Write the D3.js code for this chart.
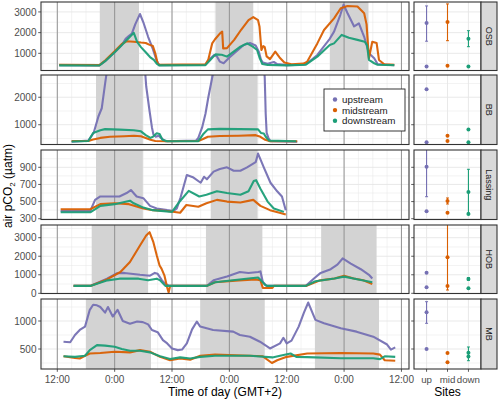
<!DOCTYPE html>
<html><head><meta charset="utf-8">
<script src="https://cdn.jsdelivr.net/npm/d3@7"></script>
<style>body{margin:0;background:#fff;} text{font-family:"Liberation Sans",Arial,sans-serif;}</style>
</head><body><svg id="c" width="500" height="400"></svg>
<script>
const sites = ["OSB","BB","Lassing","HOB","MB"];
const streams = ["upstream","midstream","downstream"];
const streamShort = ["up","mid","down"];
const colors = ["#7570B3","#D95F02","#1B9E77"];
const xTicks = [12,24,36,48,60,72,84];
const xTickLabels = ["12:00","0:00","12:00","0:00","12:00","0:00","12:00"];
const xDomain = [8.59,85.58];

const yTicksOSB = [1000,2000,3000];
const yTicksBB = [1000,2000];
const yTicksLassing = [300,500,700,900];
const yTicksHOB = [0,1000,2000,3000];
const yTicksMB = [500,1000];
const yDomOSB = [170,3480];
const yDomBB = [280,2810];
const yDomLassing = [291,1102];
const yDomHOB = [-10,3685];
const yDomMB = [143,1393];

const nightsOSB = [[20.9,29.1],[45.1,53.0],[69.05,77.1]];
const nightsBB = [[20.1,29.9],[44.1,53.9]];
const nightsLassing = [[20.1,29.9],[44.1,53.9]];
const nightsHOB = [[19.2,31.0],[43.1,54.9],[67.2,78.8]];
const nightsMB = [[18.0,31.6],[41.9,55.4],[65.9,79.3]];

// time (h since day-1 0:00), air pCO2 (µatm)
const osbUp = [[12.4,430],[20.8,420],[22,620],[24,1050],[25.5,1400],[26.3,1700],[27,1850],[27.6,1950],[28.3,2400],[29.3,2900],[30,2500],[31,1800],[32,1200],[32.7,700],[33.3,430],[43,450],[43.8,700],[44.8,920],[45.4,850],[46,600],[46.8,520],[48,800],[49.5,1100],[51,1400],[52.3,1500],[53.5,1380],[54.2,1050],[54.6,700],[55,550],[56,500],[57.3,580],[58,480],[60,430],[63.5,450],[64.3,520],[66.4,920],[69,1700],[69.9,2050],[71.2,2850],[71.9,3350],[72.7,2950],[74.1,2300],[75.1,2450],[76.2,1800],[77.2,1000],[78.3,760],[79,480],[82.5,420]];
const osbMid = [[12.4,450],[20.8,430],[22,650],[24,1100],[25.5,1450],[26.5,1580],[28,1560],[29.5,1520],[30.5,1500],[31.2,1420],[32,1350],[32.5,1000],[33,500],[33.5,440],[43,470],[43.6,700],[44.4,1480],[45,1680],[46,1950],[46.5,2050],[46.7,1240],[47.5,1250],[49,1650],[50.5,2150],[52,2600],[53,2750],[54,2600],[54.3,2300],[54.7,1160],[55.1,1350],[55.4,1300],[55.8,850],[56.5,720],[57.6,1080],[58.5,800],[59.5,560],[61,470],[63.5,500],[64.3,600],[66.4,1480],[67.8,2130],[69.9,2690],[71.3,3180],[72.7,3290],[74.8,3260],[76.2,2940],[76.7,2400],[77.2,760],[77.9,1560],[78.8,1500],[79.3,680],[80.4,470],[82.5,440]];
const osbDown = [[12.4,420],[20.8,410],[22,620],[24,1050],[25.5,1400],[27,1750],[28,1990],[28.7,1550],[29.5,1300],[30.5,1050],[31.4,820],[32.2,680],[32.8,500],[33.3,420],[43,430],[44,680],[45.1,950],[46.4,930],[47.5,840],[50.3,1320],[51.7,1480],[52.9,1320],[53.8,1160],[54.3,800],[54.9,480],[56,440],[60,420],[64,450],[66.4,840],[69,1400],[69.9,1480],[71.5,1890],[73,1750],[74.8,1650],[76.3,1560],[76.8,1400],[77.2,680],[78.3,520],[79,450],[82.5,430]];

const bbUp = [[15,380],[18.5,420],[19.6,700],[20.6,1300],[21.3,1600],[22,2500],[22.5,3100],[30.3,3100],[30.6,2400],[31.3,1500],[31.8,900],[32.1,650],[32.6,560],[33.2,600],[33.8,500],[34.6,400],[41,420],[41.5,520],[42.3,900],[43,1400],[43.6,2000],[44.5,2800],[45,3300],[55.2,3300],[55.4,2700],[55.6,1400],[55.8,700],[56.2,500],[56.6,400],[62.2,380]];
const bbMid = [[15,410],[18.5,410],[19.5,460],[21,520],[23,560],[26,580],[28,600],[29.5,580],[30.5,520],[31.5,450],[32.5,410],[35,400],[41.5,410],[42.5,480],[43.5,560],[46,590],[50,600],[53.5,620],[54.5,560],[55.5,450],[56.5,400],[62.2,400]];
const bbDown = [[15,390],[18.5,410],[19.5,700],[21,800],[22,840],[25,820],[28,800],[29.5,760],[30.5,620],[31.5,520],[32,560],[32.8,690],[33.4,660],[34,450],[35,400],[41.5,400],[42.5,650],[43.5,830],[46,850],[50,840],[54,830],[54.6,700],[55.2,680],[55.6,560],[56.3,420],[62,400]];

const lasUp = [[12.7,390],[18.9,390],[19.9,520],[21,560],[25,560],[26.5,600],[27.4,635],[28.6,560],[30,540],[31.4,450],[32.8,420],[35,400],[36.3,390],[37,420],[37.8,550],[39.1,810],[40.5,780],[42,720],[42.7,790],[43.3,760],[44.7,850],[46,880],[47.5,900],[48.9,860],[50.3,860],[51.7,900],[53.5,960],[54,1060],[55.2,900],[56.6,720],[58,620],[59,560],[59.8,400]];
const lasMid = [[12.7,410],[18.9,410],[21,470],[24,480],[27,470],[30,420],[32,400],[35,390],[37.7,370],[39,460],[41.5,440],[43.2,480],[45.4,520],[47.5,500],[50.3,490],[53,520],[54.5,450],[56.5,400],[58.5,370],[59.8,350]];
const lasDown = [[12.7,375],[18.9,375],[21,450],[24,470],[27.2,510],[28,480],[30,430],[32,400],[36,380],[37.3,480],[39.5,625],[41.7,560],[43.2,580],[45.4,620],[47.5,600],[50.3,580],[52,620],[53.1,740],[53.6,750],[54.5,650],[56,500],[57.3,420],[59.4,380]];

const hobUp = [[15.4,400],[18.9,400],[22.4,790],[24.5,1080],[26,1100],[29.3,1000],[31.4,950],[32.4,1100],[33,1050],[33.9,700],[34.6,500],[35.5,400],[43.3,400],[44.7,700],[47.5,910],[50.2,1150],[52,1100],[54,1150],[54.5,1180],[55,610],[55.8,400],[64,400],[65.7,800],[67.1,1100],[69.2,1300],[70.6,1550],[71.7,1880],[73.4,1600],[75.5,1300],[77.2,1000],[77.9,800]];
const hobMid = [[15.4,400],[18.9,400],[22.4,750],[25.2,1150],[27.2,1690],[29.3,2580],[30.6,3120],[31.3,3300],[32.1,2760],[32.8,2050],[33.4,1500],[33.8,1330],[34.4,970],[35,300],[35.3,50],[35.6,400],[43.3,400],[45,600],[50,700],[53.5,750],[54.5,700],[55,290],[57,290],[57.3,400],[64,400],[67,700],[70,800],[72,950],[74,800],[76,700],[77.9,500]];
const hobDown = [[15.4,400],[18.9,400],[22.5,700],[25,790],[29,790],[31,700],[32.8,790],[33.5,700],[34.6,400],[43.3,400],[45,600],[52,800],[54,850],[54.6,700],[55.5,450],[56,400],[64,400],[66,650],[70,800],[72,900],[75,750],[77.9,600]];

const mbUp = [[13.3,630],[14.7,620],[15.7,750],[16.7,840],[17.8,900],[18.8,1200],[19.5,1290],[20.3,1280],[21,1250],[22,1150],[22.6,1250],[23.6,1080],[24.6,1200],[25.7,1000],[27.2,950],[28.7,990],[29.9,980],[31,940],[31.8,840],[33,800],[34.1,660],[35,600],[36,510],[37.2,480],[38.1,490],[39.1,600],[40.2,850],[41.2,990],[41.9,900],[44.6,840],[48.8,810],[50.2,750],[52.3,720],[54.4,630],[56.5,510],[58.6,600],[59.3,700],[60,600],[61,650],[62.5,900],[63.6,1150],[64.5,1330],[66,1020],[67.8,960],[71.3,870],[74.6,810],[78.1,720],[81,580],[81.8,490],[82.7,530]];
const mbMid = [[13.3,370],[15.7,340],[16.7,330],[17.8,380],[18.8,420],[21,430],[24,450],[27.2,440],[29.3,480],[31.4,450],[33.5,360],[35.6,300],[37.7,330],[39.8,310],[41.9,380],[45,400],[52.3,380],[55,370],[56.9,250],[58,300],[60,360],[64.3,420],[71.3,430],[78.1,420],[79.5,400],[80.5,300],[82.7,290]];
const mbDown = [[13.3,370],[15.7,360],[17.8,380],[18.8,480],[20.3,570],[22,560],[24,540],[25.5,500],[27.2,470],[29.3,470],[31.4,440],[33.5,370],[35.6,320],[37.7,350],[39.8,330],[41.9,360],[45,380],[52.3,380],[57,350],[58.6,380],[60.8,420],[62,360],[64.3,355],[71.3,335],[78.1,335],[79.5,320],[80.5,370],[82.7,360]];

// summary per stream: [mean, errLow, errHigh, baseline]
const sumOSB = [[2463,1585,3290,360],[2516,1610,3387,400],[1707,1320,2094,360]];
const sumBB = [[2292,null,null,358],[599,null,null,405],[825,null,null,358]];
const sumLassing = [[907,557,1150,388],[507,472,542,370],[612,367,877,355]];
const sumHOB = [[1113,null,null,324],[1943,178,3800,400],[772,700,850,270]];
const sumMB = [[1155,959,1345,500],[429,null,null,263],[434,291,536,366]];

const yTicksAll=[yTicksOSB,yTicksBB,yTicksLassing,yTicksHOB,yTicksMB];
const yDoms=[yDomOSB,yDomBB,yDomLassing,yDomHOB,yDomMB];
const nightsAll=[nightsOSB,nightsBB,nightsLassing,nightsHOB,nightsMB];
const seriesAll=[[osbUp,osbMid,osbDown],[bbUp,bbMid,bbDown],[lasUp,lasMid,lasDown],[hobUp,hobMid,hobDown],[mbUp,mbMid,mbDown]];
const sumAll=[sumOSB,sumBB,sumLassing,sumHOB,sumMB];

const panelTop=[2,75,150,225,299], panelBot=[70.5,144.5,219.5,293.5,369];
const L0=41,L1=409,R0=414,R1=481,S1=497;
const svg=d3.select("#c");
const xT=d3.scaleLinear().domain(xDomain).range([L0,L1]);
const xS=d3.scalePoint().domain(streamShort).range([R0,R1]).padding(0.6);
const gridC="#e6e6e6", border="#333333", axisTxt="#4d4d4d";

sites.forEach((site,i)=>{
  const top=panelTop[i], bot=panelBot[i];
  const y=d3.scaleLinear().domain(yDoms[i]).range([bot,top]);
  const ticks=yTicksAll[i];
  const step=ticks[1]-ticks[0];
  const minor=[];
  for(let v=ticks[0]-step*Math.ceil((ticks[0]-yDoms[i][0])/step)-step/2; v<=yDoms[i][1]; v+=step) if(v>=yDoms[i][0]) minor.push(v);
  const g=svg.append("g");
  const defs=svg.append("defs");
  defs.append("clipPath").attr("id","cl"+i).append("rect").attr("x",L0).attr("y",top).attr("width",L1-L0).attr("height",bot-top);
  defs.append("clipPath").attr("id","cr"+i).append("rect").attr("x",R0).attr("y",top).attr("width",R1-R0).attr("height",bot-top);
  const gl=g.append("g").attr("clip-path",`url(#cl${i})`);
  gl.append("rect").attr("x",L0).attr("y",top).attr("width",L1-L0).attr("height",bot-top).attr("fill","#fff");
  minor.forEach(v=>gl.append("line").attr("x1",L0).attr("x2",L1).attr("y1",y(v)).attr("y2",y(v)).attr("stroke",gridC).attr("stroke-width",0.5));
  ticks.forEach(v=>gl.append("line").attr("x1",L0).attr("x2",L1).attr("y1",y(v)).attr("y2",y(v)).attr("stroke",gridC).attr("stroke-width",0.9));
  for(let h=9;h<=85;h+=3){ gl.append("line").attr("x1",xT(h)).attr("x2",xT(h)).attr("y1",top).attr("y2",bot).attr("stroke",gridC).attr("stroke-width",h%12===0?0.9:0.5); }
  nightsAll[i].forEach(n=>gl.append("rect").attr("x",xT(n[0])).attr("width",xT(n[1])-xT(n[0])).attr("y",top).attr("height",bot-top).attr("fill","#d3d3d3"));
  xTicks.forEach(h=>gl.append("line").attr("x1",xT(h)).attr("x2",xT(h)).attr("y1",top).attr("y2",bot).attr("stroke","#8a8a8a").attr("stroke-width",0.9));
  const line=d3.line().x(d=>xT(d[0])).y(d=>y(d[1]));
  seriesAll[i].forEach((s,k)=>gl.append("path").attr("d",line(s)).attr("fill","none").attr("stroke",colors[k]).attr("stroke-width",2.1).attr("stroke-linejoin","round").attr("opacity",0.95));
  g.append("rect").attr("x",L0).attr("y",top).attr("width",L1-L0).attr("height",bot-top).attr("fill","none").attr("stroke",border).attr("stroke-width",1.1);
  ticks.forEach(v=>{
    g.append("line").attr("x1",L0-2.8).attr("x2",L0).attr("y1",y(v)).attr("y2",y(v)).attr("stroke",border).attr("stroke-width",0.8);
    g.append("text").attr("x",L0-4.5).attr("y",y(v)+3.6).attr("text-anchor","end").attr("font-size",10).attr("fill",axisTxt).text(v);
    g.append("line").attr("x1",R0-2.8).attr("x2",R0).attr("y1",y(v)).attr("y2",y(v)).attr("stroke",border).attr("stroke-width",0.8);
  });
  const gr=g.append("g").attr("clip-path",`url(#cr${i})`);
  gr.append("rect").attr("x",R0).attr("y",top).attr("width",R1-R0).attr("height",bot-top).attr("fill","#fff");
  minor.forEach(v=>gr.append("line").attr("x1",R0).attr("x2",R1).attr("y1",y(v)).attr("y2",y(v)).attr("stroke",gridC).attr("stroke-width",0.5));
  ticks.forEach(v=>gr.append("line").attr("x1",R0).attr("x2",R1).attr("y1",y(v)).attr("y2",y(v)).attr("stroke",gridC).attr("stroke-width",0.9));
  streamShort.forEach(c=>gr.append("line").attr("x1",xS(c)).attr("x2",xS(c)).attr("y1",top).attr("y2",bot).attr("stroke",gridC).attr("stroke-width",0.9));
  sumAll[i].forEach((r,k)=>{
    const cx=xS(streamShort[k]);
    if(r[1]!==null){
      gr.append("line").attr("x1",cx).attr("x2",cx).attr("y1",y(r[1])).attr("y2",y(r[2])).attr("stroke",colors[k]).attr("stroke-width",1.1);
      [r[1],r[2]].forEach(v=>gr.append("line").attr("x1",cx-1.5).attr("x2",cx+1.5).attr("y1",y(v)).attr("y2",y(v)).attr("stroke",colors[k]).attr("stroke-width",1));
    }
    gr.append("circle").attr("cx",cx).attr("cy",y(r[0])).attr("r",2).attr("fill",colors[k]);
    gr.append("circle").attr("cx",cx).attr("cy",y(r[3])).attr("r",2).attr("fill",colors[k]);
  });
  g.append("rect").attr("x",R0).attr("y",top).attr("width",R1-R0).attr("height",bot-top).attr("fill","none").attr("stroke",border).attr("stroke-width",1.1);
  g.append("rect").attr("x",R1).attr("y",top).attr("width",S1-R1).attr("height",bot-top).attr("fill","#d9d9d9").attr("stroke",border).attr("stroke-width",1.1);
  g.append("text").attr("transform",`translate(${(R1+S1)/2-3.2},${(top+bot)/2}) rotate(90)`).attr("text-anchor","middle").attr("font-size",9).attr("fill","#1a1a1a").text(site);
});

const yb=panelBot[4];
xTicks.forEach((h,j)=>{
  svg.append("line").attr("x1",xT(h)).attr("x2",xT(h)).attr("y1",yb).attr("y2",yb+2.8).attr("stroke",border).attr("stroke-width",0.8);
  svg.append("text").attr("x",xT(h)).attr("y",yb+13.5).attr("text-anchor","middle").attr("font-size",10).attr("fill",axisTxt).text(xTickLabels[j]);
});
streamShort.forEach(c=>{
  svg.append("line").attr("x1",xS(c)).attr("x2",xS(c)).attr("y1",yb).attr("y2",yb+2.8).attr("stroke",border).attr("stroke-width",0.8);
  svg.append("text").attr("x",xS(c)).attr("y",yb+13.5).attr("text-anchor","middle").attr("font-size",9.7).attr("fill",axisTxt).text(c);
});
svg.append("text").attr("x",(L0+L1)/2).attr("y",395.5).attr("text-anchor","middle").attr("font-size",12).attr("fill","#000").text("Time of day (GMT+2)");
svg.append("text").attr("x",(R0+R1)/2).attr("y",395.5).attr("text-anchor","middle").attr("font-size",12).attr("fill","#000").text("Sites");
const yt=svg.append("text").attr("transform","translate(12,186) rotate(-90)").attr("text-anchor","middle").attr("font-size",12).attr("fill","#000");
yt.append("tspan").text("air pCO");
yt.append("tspan").attr("font-size",8).attr("dy",3).text("2");
yt.append("tspan").attr("dy",-3).text(" (µatm)");

const lg=svg.append("g");
lg.append("rect").attr("x",324).attr("y",89).attr("width",81).attr("height",42).attr("fill","#fff").attr("stroke","#222").attr("stroke-width",0.9);
streams.forEach((s,k)=>{
  const cy=99.5+k*10.6;
  lg.append("circle").attr("cx",335).attr("cy",cy).attr("r",2.2).attr("fill",colors[k]);
  lg.append("text").attr("x",342).attr("y",cy+3.5).attr("font-size",9.8).attr("fill","#1a1a1a").text(s);
});
</script></body></html>
